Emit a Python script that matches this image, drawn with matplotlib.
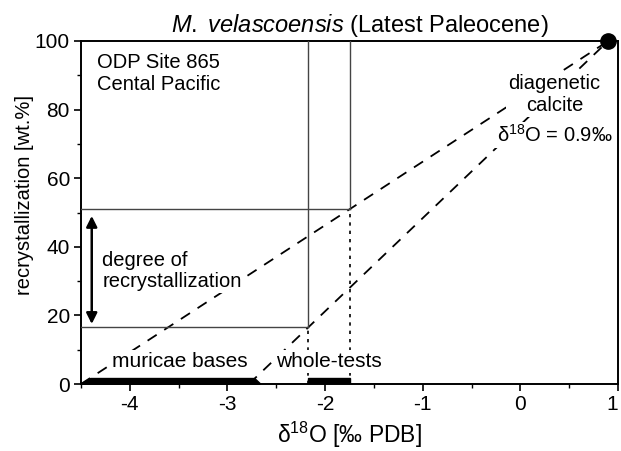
import matplotlib
matplotlib.use("Agg")
import matplotlib.pyplot as plt
from matplotlib.patches import Polygon

plt.rcParams['font.family'] = ['Liberation Sans', 'DejaVu Sans']
plt.rcParams['mathtext.fontset'] = 'custom'
plt.rcParams['mathtext.rm'] = 'Liberation Sans'
plt.rcParams['mathtext.it'] = 'Liberation Sans:italic'
plt.rcParams['mathtext.sf'] = 'Liberation Sans'

# end member: diagenetic calcite
diag_d18o = 0.9
diag_recryst = 100

# measured ranges (d18O, permil PDB)
muricae_range = [-4.4, -2.72]
whole_range = [-2.17, -1.75]

# recrystallization
recryst_low = 16.5
recryst_high = 51

# mixing lines start points
mix_starts = [(-4.5, 0), (-2.78, 0)]

x_ticks = [-4, -3, -2, -1, 0, 1]
y_ticks = [0, 20, 40, 60, 80, 100]

fig = plt.figure(figsize=(6.21, 4.51), dpi=100)
ax = fig.add_axes([81 / 621, 1 - 384 / 451, 537 / 621, 343 / 451])
ax.set_xlim(-4.5, 1)
ax.set_ylim(0, 100)

# dashed mixing lines
for x0, y0 in mix_starts:
    ax.plot([x0, diag_d18o], [y0, diag_recryst], color='black', lw=1.3,
            dashes=(6, 5), zorder=2)

# solid box lines
ax.plot([-4.5, whole_range[1]], [recryst_high, recryst_high], color='#444444', lw=1, zorder=3)
ax.plot([-4.5, whole_range[0]], [recryst_low, recryst_low], color='#444444', lw=1, zorder=3)
ax.plot([whole_range[0], whole_range[0]], [recryst_low, 100], color='#444444', lw=1, zorder=3)
ax.plot([whole_range[1], whole_range[1]], [recryst_high, 100], color='#444444', lw=1, zorder=3)

# dotted drop lines
ax.plot([whole_range[0], whole_range[0]], [0, recryst_low], color='black', lw=1.2, ls=(0, (2, 3)), zorder=3)
ax.plot([whole_range[1], whole_range[1]], [0, recryst_high], color='black', lw=1.2, ls=(0, (2, 3)), zorder=3)

# range bars
ax.add_patch(Polygon([(-4.5, 0), (muricae_range[0], 1.6), (muricae_range[1], 1.6),
                      (muricae_range[1] + 0.06, 0)], closed=True,
                     facecolor='black', edgecolor='black', zorder=4, clip_on=False))
ax.add_patch(Polygon([(whole_range[0], 0), (whole_range[0], 1.8), (whole_range[1], 1.8),
                      (whole_range[1], 0)], closed=True,
                     facecolor='black', edgecolor='black', zorder=4))

# end member point
ax.plot([diag_d18o], [diag_recryst], 'o', color='black', ms=11, clip_on=False, zorder=6)

# arrow
ax.annotate('', xy=(-4.39, recryst_low + 1), xytext=(-4.39, recryst_high - 2),
            arrowprops=dict(arrowstyle='<|-|>', color='black', lw=1.8,
                            mutation_scale=16, shrinkA=0, shrinkB=0), zorder=5)

bbox_w = dict(facecolor='white', edgecolor='none', pad=1.5)
ax.text(-4.34, 96.5, 'ODP Site 865\nCental Pacific', fontsize=14.5, va='top', ha='left',
        linespacing=1.2)
ax.text(-4.28, 33, 'degree of\nrecrystallization', fontsize=14.5, va='center', ha='left',
        linespacing=1.15, bbox=bbox_w, zorder=4)
ax.text(0.35, 84.5, 'diagenetic\ncalcite', fontsize=14.5, va='center', ha='center',
        linespacing=1.2, multialignment='center', bbox=bbox_w, zorder=4)
ax.text(0.35, 72.5, 'δ$^{18}$O = 0.9‰', fontsize=14.5, va='center', ha='center',
        bbox=bbox_w, zorder=4)
ax.text(-3.49, 6.6, 'muricae bases', fontsize=15, va='center', ha='center',
        bbox=bbox_w, zorder=4)
ax.text(-1.96, 6.6, 'whole-tests', fontsize=15, va='center', ha='center',
        bbox=bbox_w, zorder=4)

ax.set_title(r'$\it{M.\ velascoensis}$ (Latest Paleocene)', fontsize=17, pad=6.5, x=0.52)

ax.set_xticks(x_ticks)
ax.set_xticklabels([str(t) for t in x_ticks])
ax.set_xticks([-4.5, -3.5, -2.5, -1.5, -0.5, 0.5], minor=True)
ax.set_yticks(y_ticks)
ax.set_yticks([10, 30, 50, 70, 90], minor=True)
ax.tick_params(axis='both', which='major', direction='out', length=5, width=1.2,
               labelsize=15, pad=3)
ax.tick_params(axis='both', which='minor', direction='out', length=3, width=1)
ax.get_xticklabels()[-1].set_ha('right')
for s in ax.spines.values():
    s.set_linewidth(1.4)

ax.set_xlabel('δ$^{18}$O [‰ PDB]', fontsize=16.5, labelpad=4)
ax.set_ylabel('recrystallization [wt.%]', fontsize=14.5)
ax.yaxis.set_label_coords(-0.088, 0.551)

fig.savefig('out.png', dpi=100)
